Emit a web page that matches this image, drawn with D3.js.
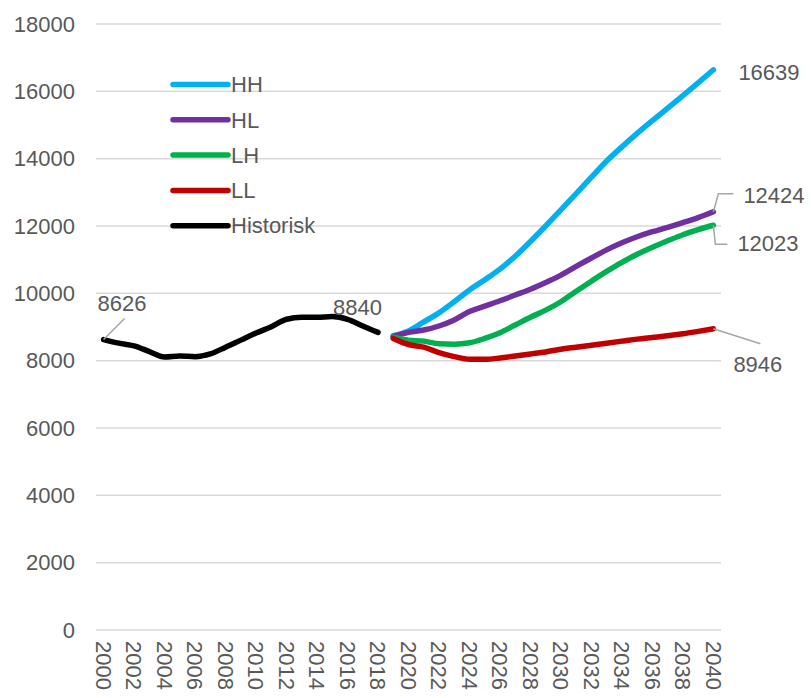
<!DOCTYPE html>
<meta charset="utf-8">
<script src="https://d3js.org/d3.v7.min.js"></script>
<style>
  body { margin: 0; background: #fff; }
  text { font-family: "Liberation Sans", Arial, sans-serif; fill: #595959; }
</style>
<div id="chart"></div>
<script>
// categories
var years = [2000, 2001, 2002, 2003, 2004, 2005, 2006, 2007, 2008, 2009,
             2010, 2011, 2012, 2013, 2014, 2015, 2016, 2017, 2018, 2019,
             2020, 2021, 2022, 2023, 2024, 2025, 2026, 2027, 2028, 2029,
             2030, 2031, 2032, 2033, 2034, 2035, 2036, 2037, 2038, 2039, 2040]
var histYears = years.slice(0, 19)   // 2000-2018
var projYears = years.slice(19)      // 2019-2040

// values
var historisk = [8626, 8520, 8440, 8270, 8110, 8140, 8120, 8200, 8400, 8610,
                 8820, 9010, 9230, 9290, 9290, 9310, 9230, 9030, 8840]
var hh = [8740, 8880, 9150, 9420, 9750, 10100, 10400, 10720, 11100, 11540, 12000,
          12480, 12960, 13450, 13930, 14350, 14750, 15130, 15500, 15870, 16250, 16639]
var hl = [8720, 8840, 8910, 9030, 9210, 9460, 9620, 9780, 9950, 10120, 10320,
          10540, 10800, 11050, 11290, 11500, 11680, 11830, 11960, 12100, 12250, 12424]
var lh = [8700, 8610, 8580, 8500, 8490, 8530, 8660, 8830, 9060, 9290, 9500,
          9750, 10060, 10360, 10650, 10920, 11160, 11370, 11560, 11740, 11890, 12023]
var ll = [8660, 8480, 8400, 8240, 8120, 8040, 8040, 8080, 8140, 8200, 8260,
          8340, 8400, 8460, 8520, 8580, 8640, 8690, 8740, 8800, 8870, 8946]

var seriesNames = ["HH", "HL", "LH", "LL", "Historisk"]
var seriesColors = ["#00b0f0", "#7030a0", "#00b050", "#c00000", "#000000"]
var yTicks = [0, 2000, 4000, 6000, 8000, 10000, 12000, 14000, 16000, 18000]

var width = 811, height = 698

var series = [
  { name: "HH", x: projYears, v: hh },
  { name: "HL", x: projYears, v: hl },
  { name: "LH", x: projYears, v: lh },
  { name: "LL", x: projYears, v: ll },
  { name: "Historisk", x: histYears, v: historisk }
]

var color = d3.scaleOrdinal().domain(seriesNames).range(seriesColors)

var x = d3.scalePoint()
  .domain(years)
  .range([96, 721])
  .padding(0.5)

var y = d3.scaleLinear()
  .domain([0, 18000])
  .range([630, 24])

var svg = d3.select("#chart")
  .append("svg")
    .attr("width", width)
    .attr("height", height)

// gridlines
svg.append("g")
  .selectAll("line")
  .data(yTicks)
  .enter()
  .append("line")
    .attr("x1", 96)
    .attr("x2", 721)
    .attr("y1", function(d) { return y(d) })
    .attr("y2", function(d) { return y(d) })
    .attr("stroke", "#d9d9d9")
    .attr("stroke-width", 1.5)

// y axis labels
svg.append("g")
  .selectAll("text")
  .data(yTicks)
  .enter()
  .append("text")
    .attr("x", 75)
    .attr("y", function(d) { return y(d) })
    .attr("dy", "0.35em")
    .attr("text-anchor", "end")
    .style("font-size", "22px")
    .text(function(d) { return d })

// x axis labels, every second year, rotated
svg.append("g")
  .selectAll("text")
  .data(years.filter(function(d, i) { return i % 2 === 0 }))
  .enter()
  .append("text")
    .attr("transform", function(d) { return "translate(" + x(d) + ",641) rotate(90)" })
    .attr("dy", "0.35em")
    .attr("text-anchor", "start")
    .style("font-size", "22px")
    .text(function(d) { return d })

// lines
var line = d3.line()
  .x(function(d) { return x(d[0]) })
  .y(function(d) { return y(d[1]) })
  .curve(d3.curveMonotoneX)

svg.append("g")
  .selectAll("path")
  .data(series)
  .enter()
  .append("path")
    .attr("d", function(s) { return line(s.x.map(function(yr, i) { return [yr, s.v[i]] })) })
    .attr("fill", "none")
    .attr("stroke", function(s) { return color(s.name) })
    .attr("stroke-width", 5.5)
    .attr("stroke-linejoin", "round")
    .attr("stroke-linecap", "round")

// data labels with leader lines
var labels = [
  { yr: 2000, v: historisk[0], dx: -6, dy: -29, anchor: "start", leader: [[21, -21]] },
  { yr: 2018, v: historisk[historisk.length - 1], dx: -45, dy: -17, anchor: "start", leader: null },
  { yr: 2040, v: hh[hh.length - 1], dx: 25, dy: 10, anchor: "start", leader: null },
  { yr: 2040, v: hl[hl.length - 1], dx: 30, dy: -9, anchor: "start", leader: [[5, -18], [20, -18]] },
  { yr: 2040, v: lh[lh.length - 1], dx: 24, dy: 26, anchor: "start", leader: [[2, 19], [14, 19]] },
  { yr: 2040, v: ll[ll.length - 1], dx: 20, dy: 43, anchor: "start", leader: [[47, 15]] }
]

labels.forEach(function(l) {
  var px = x(l.yr), py = y(l.v)
  if (l.leader) {
    var pts = [[px, py]].concat(l.leader.map(function(p) { return [px + p[0], py + p[1]] }))
    svg.append("path")
      .attr("d", d3.line()(pts))
      .attr("fill", "none")
      .attr("stroke", "#a6a6a6")
      .attr("stroke-width", 1.5)
  }
  svg.append("text")
    .attr("x", px + l.dx)
    .attr("y", py + l.dy)
    .attr("text-anchor", l.anchor)
    .style("font-size", "22px")
    .text(l.v)
})

// legend
var legend = svg.append("g")
  .selectAll("g")
  .data(seriesNames)
  .enter()
  .append("g")
    .attr("transform", function(d, i) { return "translate(173," + (84.5 + i * 35.3) + ")" })

legend.append("line")
  .attr("x1", 0)
  .attr("x2", 55)
  .attr("stroke", function(d) { return color(d) })
  .attr("stroke-width", 5.5)
  .attr("stroke-linecap", "round")

legend.append("text")
  .attr("x", 58)
  .attr("dy", "0.35em")
  .style("font-size", "22px")
  .text(function(d) { return d })
</script>
